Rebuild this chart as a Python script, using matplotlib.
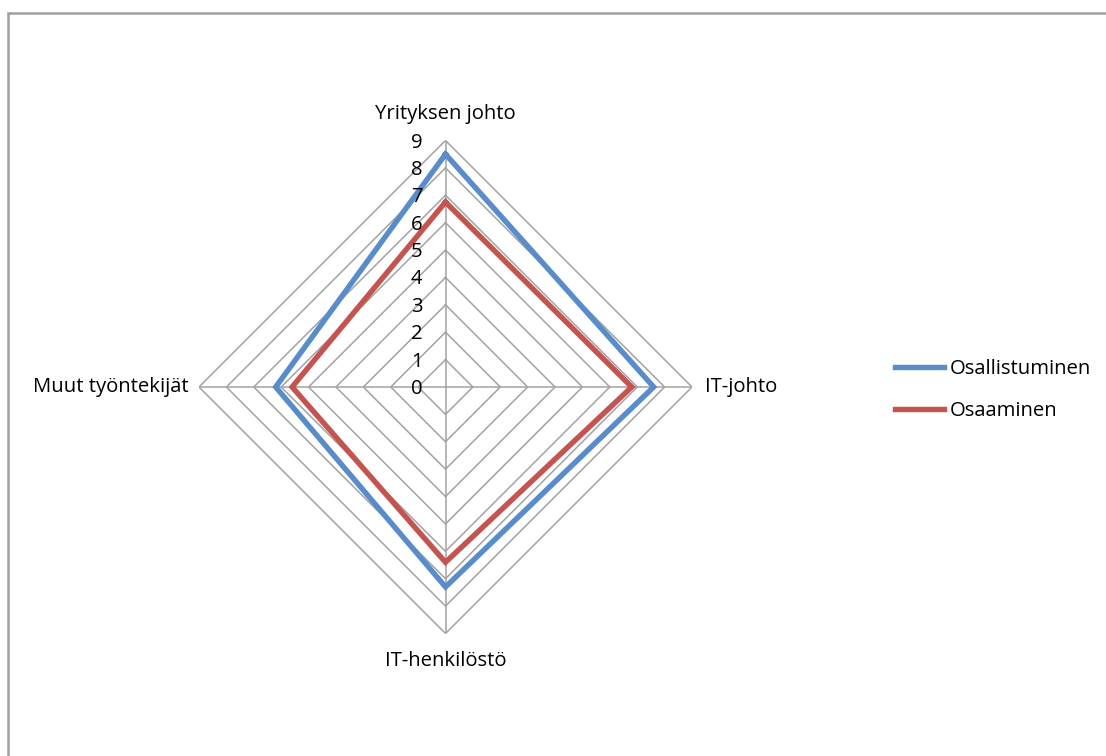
import numpy as np
import matplotlib
matplotlib.use("Agg")
import matplotlib.pyplot as plt
from matplotlib.patches import Rectangle

plt.rcParams['font.family'] = ['Open Sans', 'DejaVu Sans']

categories = ["Yrityksen johto", "IT-johto", "IT-henkilöstö", "Muut työntekijät"]
series_names = ["Osallistuminen", "Osaaminen"]
osallistuminen = [8.5, 7.6, 7.3, 6.2]
osaaminen = [6.75, 6.8, 6.4, 5.6]
ticks = list(range(0, 10))

colors = ["#588CCB", "#C4544F"]
grid_color = "#A3A3A3"
FS = 14.6

W, H = 1106, 756
fig = plt.figure(figsize=(W / 100, H / 100), dpi=100)

# outer chart border
fig.patches.append(Rectangle((8 / W, -0.5), 2.0, 1.5 - 13 / H,
                             transform=fig.transFigure, fill=False,
                             edgecolor="#A0A0A0", linewidth=1.8))

cx, cy, R = 445.5, 387.0, 246.5
ax = fig.add_axes([(cx - R) / W, (H - cy - R) / H, 2 * R / W, 2 * R / H],
                  projection="polar")
ax.set_theta_zero_location("N")
ax.set_theta_direction(-1)
ax.set_ylim(0, ticks[-1])
ax.grid(False)
ax.spines["polar"].set_visible(False)
ax.set_xticks([])
ax.set_yticks([])
ax.patch.set_alpha(0)

n = len(categories)
angles = np.arange(n) * 2 * np.pi / n
closed = np.append(angles, angles[0])

# polygon grid
for t in ticks[1:]:
    ax.plot(closed, [t] * (n + 1), color=grid_color, lw=1.1, zorder=1)
# spokes
for a in angles:
    ax.plot([a, a], [0, ticks[-1]], color=grid_color, lw=1.1, zorder=1)

# series
lines = []
for vals, c, name in zip([osallistuminen, osaaminen], colors, series_names):
    v = list(vals) + [vals[0]]
    ln, = ax.plot(closed, v, color=c, lw=3.9, zorder=3, label=name,
                  solid_joinstyle="miter")
    lines.append(ln)

# radial tick labels
for t in ticks:
    ax.annotate(str(t), xy=(0, t), xytext=(-23, -2), textcoords="offset pixels",
                ha="right", va="center", fontsize=FS, color="#000000",
                annotation_clip=False)

# category labels
offsets = [(0, 27, "center", "center"), (13, 0, "left", "center"),
           (0, -27, "center", "center"), (-10, 0, "right", "center")]
for a, lab, (dx, dy, ha, va) in zip(angles, categories, offsets):
    ax.annotate(lab, xy=(a, ticks[-1]), xytext=(dx, dy), textcoords="offset pixels",
                ha=ha, va=va, fontsize=FS, color="#000000", annotation_clip=False)

fig.legend(handles=lines, labels=series_names, loc="center left",
           bbox_to_anchor=(877 / W, 1 - 390 / H), frameon=False,
           fontsize=FS, handlelength=2.4, handletextpad=0.3, labelspacing=1.1)

fig.savefig("out.png", dpi=100, facecolor="white")
